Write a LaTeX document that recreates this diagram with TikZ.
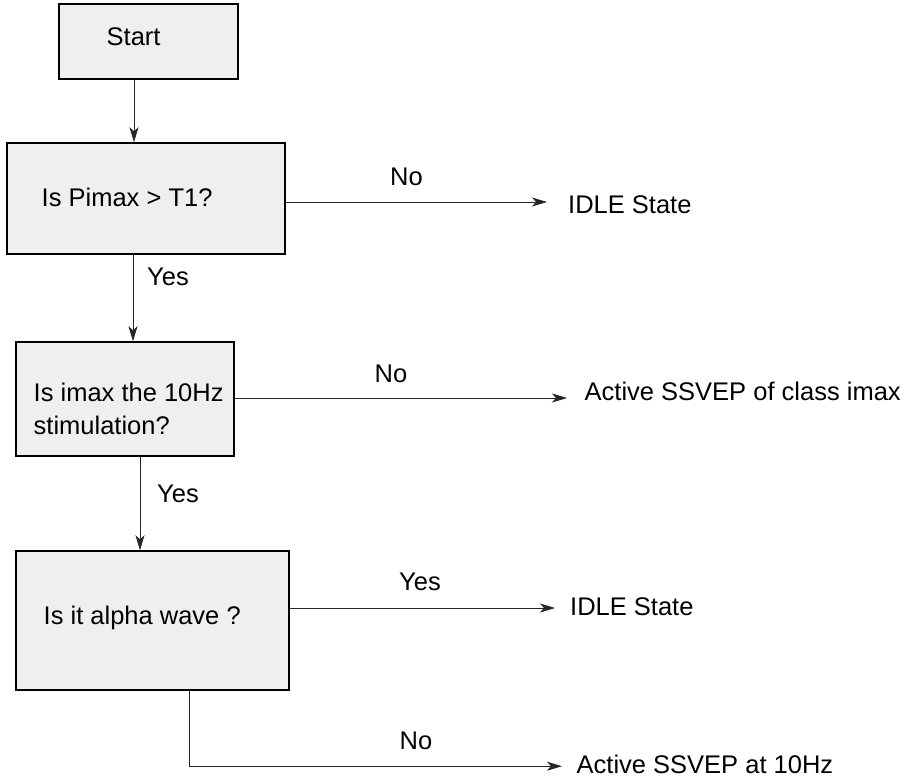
\documentclass[tikz,border=0pt]{standalone}
\usepackage{fontspec}
\setmainfont{Liberation Sans}
\usetikzlibrary{arrows.meta,positioning,calc}

\definecolor{boxgray}{RGB}{239,239,239}
\newcommand{\flowfont}{\fontsize{25.5}{33}\selectfont}

\tikzset{
  box/.style={draw=black, line width=1.5pt, fill=boxgray, inner sep=0pt},
  txt/.style={font=\flowfont, inner sep=0pt, anchor=base west},
  arr/.style={draw=black!85, line width=0.8pt, -{Stealth[length=15pt,width=9pt,inset=4pt]}},
}

\begin{document}
\begin{tikzpicture}[x=1pt, y=-1pt]
    \useasboundingbox (0,0) rectangle (910,781);

    % Boxes
    \node[box, minimum width=179pt, minimum height=75pt] (start) at (148.5,41.5) {};
    \node[box, minimum width=278pt, minimum height=111pt] (q1) at (146,198.5) {};
    \node[box, minimum width=218pt, minimum height=114pt] (q2) at (125,399) {};
    \node[box, minimum width=273pt, minimum height=139pt] (q3) at (152.5,620.5) {};

    % Box texts
    \node[txt] (starttxt) at (106.5,46) {Start};
    \node[txt] (q1txt) at (41.5,206) {Is Pimax > T1?};
    \node[txt, align=left] (q2txt) at (33.5,434) {Is imax the 10Hz\\stimulation?};
    \node[txt] (q3txt) at (43.5,624) {Is it alpha wave ?};

    % Outcomes
    \node[txt] (idle1) at (568,213) {IDLE State};
    \node[txt] (act1) at (584.5,400) {Active SSVEP of class imax};
    \node[txt] (idle2) at (570,615) {IDLE State};
    \node[txt] (act2) at (576.5,773) {Active SSVEP at 10Hz};

    % Down the chain
    \draw[arr] ([xshift=-14.5pt]start.south) -- ([xshift=-12pt]q1.north);
    \draw[arr] ([xshift=-13pt]q1.south) -- ([xshift=8pt]q2.north);
    \draw[arr] ([xshift=15pt]q2.south) -- ([xshift=-12.5pt]q3.north);

    % Out to the states
    \draw[arr, shorten >=21pt] ($(q1.east)+(0,3.5)$) -- ($(q1.east -| idle1.west)+(0,3.5)$);
    \draw[arr, shorten >=17.5pt] ($(q2.east)+(0,-1)$) -- ($(q2.east -| act1.west)+(0,-1)$);
    \draw[arr, shorten >=15pt] ($(q3.east)+(0,-12.5)$) -- ($(q3.east -| idle2.west)+(0,-12.5)$);
    \draw[arr, shorten >=14.5pt] ([xshift=36.5pt]q3.south) |- ($(act2.west)+(0,2.3)$);

    % Branch labels
    \node[txt] (yes1) at (147,285) {Yes};
    \node[txt] (no1) at (390,185) {No};
    \node[txt] (no2) at (374.5,382) {No};
    \node[txt] (yes2) at (157,502) {Yes};
    \node[txt] (yes3) at (399,590) {Yes};
    \node[txt] (no3) at (399.5,749) {No};
\end{tikzpicture}
\end{document}
